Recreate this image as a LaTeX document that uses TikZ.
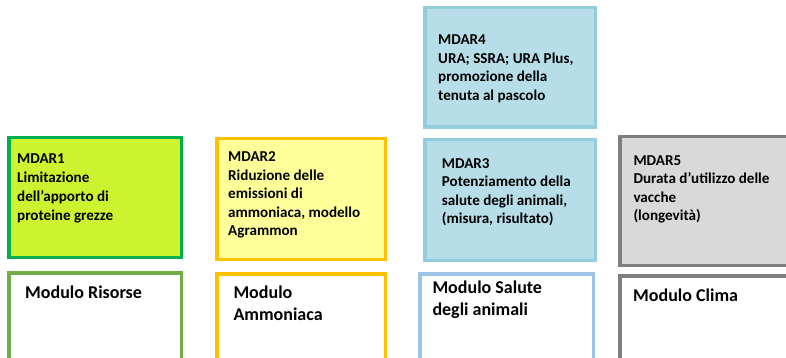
\documentclass[tikz,border=0pt]{standalone}
\usepackage{fontspec}
\setmainfont{Carlito}
\definecolor{cGreenD}{HTML}{00B050}
\definecolor{cLime}{RGB}{205,242,48}
\definecolor{cGreenL}{HTML}{70AD47}
\definecolor{cOrange}{HTML}{FFC000}
\definecolor{cYellow}{HTML}{FFFF99}
\definecolor{cTealS}{HTML}{92CDDC}
\definecolor{cTealF}{HTML}{B7DEE8}
\definecolor{cBlueL}{HTML}{9DC3E6}
\definecolor{cGrayS}{HTML}{7F7F7F}
\definecolor{cGrayF}{HTML}{D9D9D9}
\begin{document}
\begin{tikzpicture}[x=1pt,y=-1pt,
  box/.style={rectangle, line width=3.5pt, inner sep=0pt, outer sep=0pt, anchor=north west},
  mtext/.style={anchor=base west, align=left, inner sep=0pt, font=\bfseries\fontsize{15.1}{18.5}\selectfont},
  modtext/.style={anchor=base west, align=left, inner sep=0pt, font=\bfseries\fontsize{18}{22}\selectfont}]
\clip (0,0) rectangle (786,358);
\fill[white] (0,0) rectangle (786,358);
% top row boxes
\node[box, draw=cTealS, fill=cTealF, minimum width=170.5pt, minimum height=119.5pt] (b4) at (424.75,7.75) {};
% middle row
\node[box, draw=cGreenD, fill=cLime, minimum width=172.5pt, minimum height=119.5pt] (b1) at (8.75,137.75) {};
\node[box, draw=cOrange, fill=cYellow, minimum width=168.5pt, minimum height=120.5pt] (b2) at (216.75,138.75) {};
\node[box, draw=cTealS, fill=cTealF, minimum width=170.5pt, minimum height=120.5pt] (b3) at (424.75,139.75) {};
\node[box, draw=cGrayS, fill=cGrayF, minimum width=180pt, minimum height=128.5pt] (b5) at (619.75,136.75) {};
% bottom row
\node[box, draw=cGreenL, fill=white, minimum width=172.5pt, minimum height=100pt] (r1) at (8.75,272.75) {};
\node[box, draw=cOrange, fill=white, minimum width=168.5pt, minimum height=100pt] (r2) at (216.75,273.75) {};
\node[box, draw=cBlueL, fill=white, minimum width=173.5pt, minimum height=100pt] (r3) at (419.75,273.75) {};
\node[box, draw=cGrayS, fill=white, minimum width=180pt, minimum height=100pt] (r4) at (619.75,275.75) {};
% texts (anchor = baseline of the last line)
\node[mtext, font=\bfseries\fontsize{15.1}{19}\selectfont] (t1) at (17,220.5) {MDAR1\\Limitazione\\dell’apporto di\\proteine grezze};
\node[mtext] (t2) at (228,235.7) {MDAR2\\Riduzione delle\\emissioni di\\ammoniaca, modello\\Agrammon};
\node[mtext] (t4) at (438,100.5) {MDAR4\\URA; SSRA; URA Plus,\\promozione della\\tenuta al pascolo};
\node[mtext] (t3) at (441.7,223.5) {MDAR3\\Potenziamento della\\salute degli animali,\\(misura, risultato)};
\node[mtext] (t5) at (633.3,220.5) {MDAR5\\Durata d’utilizzo delle\\vacche\\(longevità)};
\node[modtext] (u1) at (25,298) {Modulo Risorse};
\node[modtext] (u2) at (233.3,320.3) {Modulo\\Ammoniaca};
\node[modtext] (u3) at (432.3,315.5) {Modulo Salute\\degli animali};
\node[modtext] (u4) at (633,301.7) {Modulo Clima};
\end{tikzpicture}
\end{document}
